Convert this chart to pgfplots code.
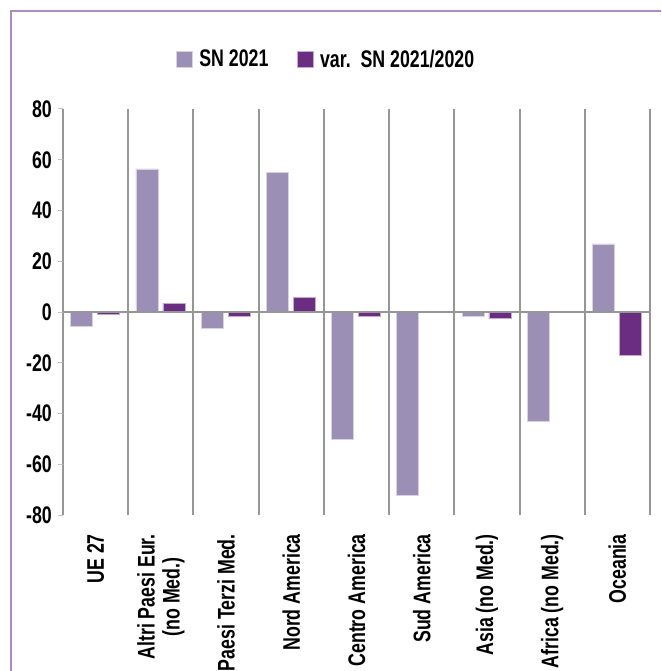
\documentclass[border=0pt]{standalone}
\usepackage{pgfplots}
\pgfplotsset{compat=1.18}
\usepackage{fontspec}
\setmainfont{Liberation Sans Bold}[FakeStretch=0.74]
\definecolor{snc}{RGB}{155,143,182}
\definecolor{varc}{RGB}{107,45,130}
\definecolor{framec}{RGB}{172,140,190}
\definecolor{gridc}{RGB}{150,150,150}
\begin{document}
\begin{tikzpicture}
\path[use as bounding box] (0,0) rectangle (661pt,-671pt);
\clip (0,0) rectangle (661pt,-671pt);
\draw[framec, line width=2pt] (11pt,-700pt) -- (11pt,-11pt) -- (700pt,-11pt);
\begin{axis}[
  at={(63pt,-515pt)}, anchor=south west,
  scale only axis, width=587pt, height=406pt,
  xmin=-0.5, xmax=8.5, ymin=-80, ymax=80,
  axis line style={draw=none},
  font=\fontsize{24pt}{25pt}\selectfont,
  /pgf/number format/assume math mode=true,
  ytick={-80,-60,...,80},
  ytick pos=left,
  tick align=outside,
  major tick length=5pt,
  ytick style={gray!50, line width=1pt},
  xtick={0,...,8},
  xtick style={draw=none},
  minor xtick={-0.5,0.5,...,8.5},
  minor tick length=0pt,
  xminorgrids,
  minor grid style={gridc, line width=2pt},
  xticklabels={UE 27, {Altri Paesi Eur.\\(no Med.)}, Paesi Terzi Med., Nord America, Centro America, Sud America, Asia (no Med.), Africa (no Med.), Oceania},
  xticklabel style={rotate=90, anchor=east, align=center, inner sep=0pt},
  xticklabel shift=14pt,
  yticklabel style={inner sep=0pt},
  yticklabel shift=6pt,
  ybar, bar width=22pt,
  legend style={draw=none, at={(axis description cs:0.448,1)}, anchor=south, yshift=36pt,
    legend columns=2, /tikz/every even column/.append style={column sep=26pt},
    font=\fontsize{24pt}{25pt}\selectfont},
  legend image code/.code={\fill[#1] (0pt,-8pt) rectangle (16pt,8pt); \path (21pt,0pt);},
]
\addplot[fill=snc, draw=snc!40!white, line width=0.6pt, bar shift=-14pt] coordinates {
(0,-5.7) (1,56.4) (2,-6.5) (3,54.9) (4,-50.2) (5,-72.1) (6,-1.7) (7,-43.2) (8,26.8)};
\addlegendentry{SN 2021}
\addplot[fill=varc, draw=varc!40!white, line width=0.6pt, bar shift=13pt] coordinates {
(0,-1.1) (1,3.5) (2,-1.8) (3,5.9) (4,-1.8) (5,-0.2) (6,-2.6) (7,-0.2) (8,-17.2)};
\addlegendentry{var.~~SN 2021/2020}
\draw[gridc, line width=2pt] (axis cs:-0.5,0) -- (axis cs:8.5,0);
\end{axis}
\end{tikzpicture}
\end{document}
